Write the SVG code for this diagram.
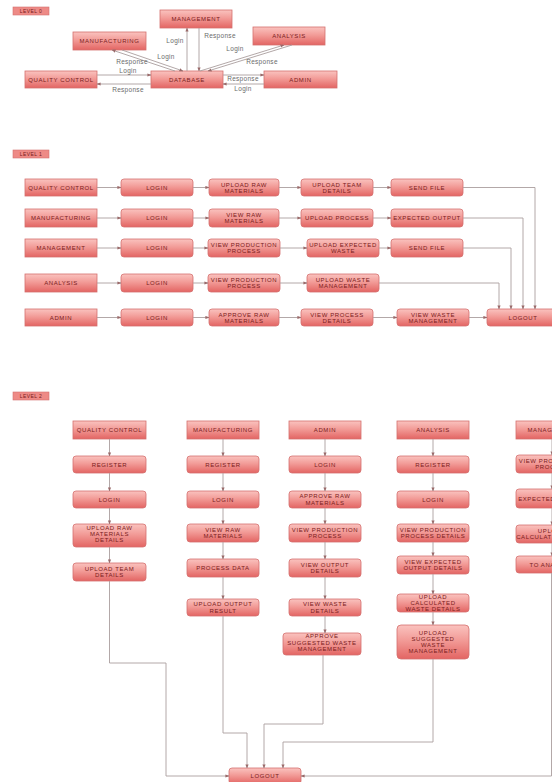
<svg xmlns="http://www.w3.org/2000/svg" width="552" height="782" viewBox="0 0 552 782">
<defs>
<linearGradient id="g" x1="0" y1="0" x2="0" y2="1">
<stop offset="0" stop-color="#fac3bf"/>
<stop offset="0.45" stop-color="#f29b97"/>
<stop offset="1" stop-color="#e36563"/>
</linearGradient>
<marker id="a" viewBox="0 0 10 10" refX="9" refY="5" markerWidth="4" markerHeight="4" orient="auto" markerUnits="userSpaceOnUse">
<path d="M0,1 L10,5 L0,9 z" fill="#9a6a6a"/>
</marker>
<style>
.b{fill:url(#g);stroke:#d4706e;stroke-width:0.8}
.lv{fill:#ee8a86;stroke:#d4706e;stroke-width:0.6}
.t{font-family:"Liberation Sans",Arial,sans-serif;font-size:6px;fill:#7a2020;text-anchor:middle;letter-spacing:0.6px}
.lt{font-family:"Liberation Sans",Arial,sans-serif;font-size:5px;fill:#7a2020;text-anchor:middle;letter-spacing:0.4px}
.c{fill:none;stroke:#aa9e9e;stroke-width:0.9;marker-end:url(#a)}
.l{font-family:"Liberation Sans",Arial,sans-serif;font-size:6.5px;fill:#6b6b6b;text-anchor:middle;letter-spacing:0.3px}
</style>
</defs>
<rect width="552" height="782" fill="#fff"/>

<!-- LEVEL 0 -->
<g id="lv0"><rect class="lv" x="13" y="7" width="36" height="8"/><text class="lt" x="31" y="12.8">LEVEL 0</text></g>
<g id="l0-management"><rect class="b" x="160" y="10" width="72" height="18"/><text class="t" x="196" y="21.1">MANAGEMENT</text></g>
<g id="l0-manufacturing"><rect class="b" x="73" y="32" width="73" height="18"/><text class="t" x="109.5" y="43.1">MANUFACTURING</text></g>
<g id="l0-analysis"><rect class="b" x="253" y="27" width="72" height="18"/><text class="t" x="289" y="38.1">ANALYSIS</text></g>
<g id="l0-qc"><rect class="b" x="25" y="71" width="72" height="17"/><text class="t" x="61" y="81.6">QUALITY CONTROL</text></g>
<g id="l0-database"><rect class="b" x="151" y="71" width="72" height="17"/><text class="t" x="187" y="81.6">DATABASE</text></g>
<g id="l0-admin"><rect class="b" x="264" y="71" width="73" height="17"/><text class="t" x="300.5" y="81.6">ADMIN</text></g>

<g id="l0-connectors">
<path class="c" d="M97,75 H151"/>
<path class="c" d="M151,84 H97"/>
<path class="c" d="M223,75 H264"/>
<path class="c" d="M264,84 H223"/>
<path class="c" d="M187,71 V28"/>
<path class="c" d="M199,28 V71"/>
<path class="c" d="M122,50 L183,71"/>
<path class="c" d="M175,71 L112,50"/>
<path class="c" d="M200,71 L284,45"/>
<path class="c" d="M292,45 L208,71"/>
<text class="l" x="128" y="73">Login</text>
<text class="l" x="128" y="91.5">Response</text>
<text class="l" x="243" y="81">Response</text>
<text class="l" x="243" y="91">Login</text>
<text class="l" x="175" y="43">Login</text>
<text class="l" x="220" y="38">Response</text>
<text class="l" x="166" y="59">Login</text>
<text class="l" x="132" y="64">Response</text>
<text class="l" x="235" y="51">Login</text>
<text class="l" x="262" y="64">Response</text>
</g>

<!-- LEVEL 1 -->
<g id="lv1"><rect class="lv" x="13" y="150" width="36" height="8"/><text class="lt" x="31" y="155.8">LEVEL 1</text></g>

<g id="l1-qc"><rect class="b" x="25" y="179" width="72" height="17"/><text class="t" x="61" y="189.6">QUALITY CONTROL</text></g>
<g id="l1-qc-login"><rect class="b" x="121" y="179" width="72" height="17" rx="3"/><text class="t" x="157" y="189.6">LOGIN</text></g>
<g id="l1-qc-upraw"><rect class="b" x="209" y="179" width="70" height="17" rx="3"/><text class="t" x="244" y="186.6">UPLOAD RAW<tspan x="244" dy="6.3">MATERIALS</tspan></text></g>
<g id="l1-qc-upteam"><rect class="b" x="301" y="179" width="72" height="17" rx="3"/><text class="t" x="337" y="186.6">UPLOAD TEAM<tspan x="337" dy="6.3">DETAILS</tspan></text></g>
<g id="l1-qc-send"><rect class="b" x="391" y="179" width="72" height="17" rx="3"/><text class="t" x="427" y="189.6">SEND FILE</text></g>

<g id="l1-man"><rect class="b" x="25" y="209" width="72" height="18"/><text class="t" x="61" y="220.1">MANUFACTURING</text></g>
<g id="l1-man-login"><rect class="b" x="121" y="209" width="72" height="18" rx="3"/><text class="t" x="157" y="220.1">LOGIN</text></g>
<g id="l1-man-viewraw"><rect class="b" x="209" y="209" width="70" height="18" rx="3"/><text class="t" x="244" y="217">VIEW RAW<tspan x="244" dy="6.3">MATERIALS</tspan></text></g>
<g id="l1-man-upproc"><rect class="b" x="301" y="209" width="72" height="18" rx="3"/><text class="t" x="337" y="220.1">UPLOAD PROCESS</text></g>
<g id="l1-man-exp"><rect class="b" x="391" y="209" width="72" height="18" rx="3"/><text class="t" x="427" y="220.1">EXPECTED OUTPUT</text></g>

<g id="l1-mgmt"><rect class="b" x="25" y="239" width="72" height="18"/><text class="t" x="61" y="250.1">MANAGEMENT</text></g>
<g id="l1-mgmt-login"><rect class="b" x="121" y="239" width="72" height="18" rx="3"/><text class="t" x="157" y="250.1">LOGIN</text></g>
<g id="l1-mgmt-viewprod"><rect class="b" x="208" y="239" width="72" height="18" rx="3"/><text class="t" x="244" y="247">VIEW PRODUCTION<tspan x="244" dy="6.3">PROCESS</tspan></text></g>
<g id="l1-mgmt-upexp"><rect class="b" x="307" y="239" width="72" height="18" rx="3"/><text class="t" x="343" y="247">UPLOAD EXPECTED<tspan x="343" dy="6.3">WASTE</tspan></text></g>
<g id="l1-mgmt-send"><rect class="b" x="391" y="239" width="72" height="18" rx="3"/><text class="t" x="427" y="250.1">SEND FILE</text></g>

<g id="l1-ana"><rect class="b" x="25" y="274" width="72" height="18"/><text class="t" x="61" y="285.1">ANALYSIS</text></g>
<g id="l1-ana-login"><rect class="b" x="121" y="274" width="72" height="18" rx="3"/><text class="t" x="157" y="285.1">LOGIN</text></g>
<g id="l1-ana-viewprod"><rect class="b" x="208" y="274" width="72" height="18" rx="3"/><text class="t" x="244" y="282">VIEW PRODUCTION<tspan x="244" dy="6.3">PROCESS</tspan></text></g>
<g id="l1-ana-upwaste"><rect class="b" x="307" y="274" width="72" height="18" rx="3"/><text class="t" x="343" y="282">UPLOAD WASTE<tspan x="343" dy="6.3">MANAGEMENT</tspan></text></g>

<g id="l1-adm"><rect class="b" x="25" y="309" width="72" height="17"/><text class="t" x="61" y="319.6">ADMIN</text></g>
<g id="l1-adm-login"><rect class="b" x="121" y="309" width="72" height="17" rx="3"/><text class="t" x="157" y="319.6">LOGIN</text></g>
<g id="l1-adm-approve"><rect class="b" x="209" y="309" width="70" height="17" rx="3"/><text class="t" x="244" y="316.6">APPROVE RAW<tspan x="244" dy="6.3">MATERIALS</tspan></text></g>
<g id="l1-adm-viewproc"><rect class="b" x="301" y="309" width="72" height="17" rx="3"/><text class="t" x="337" y="316.6">VIEW PROCESS<tspan x="337" dy="6.3">DETAILS</tspan></text></g>
<g id="l1-adm-viewwaste"><rect class="b" x="397" y="309" width="72" height="17" rx="3"/><text class="t" x="433" y="316.6">VIEW WASTE<tspan x="433" dy="6.3">MANAGEMENT</tspan></text></g>
<g id="l1-logout"><rect class="b" x="487" y="309" width="72" height="17" rx="3"/><text class="t" x="523" y="319.6">LOGOUT</text></g>

<g id="l1-connectors">
<path class="c" d="M97,187.5 H121"/><path class="c" d="M193,187.5 H209"/><path class="c" d="M279,187.5 H301"/><path class="c" d="M373,187.5 H391"/>
<path class="c" d="M97,218 H121"/><path class="c" d="M193,218 H209"/><path class="c" d="M279,218 H301"/><path class="c" d="M373,218 H391"/>
<path class="c" d="M97,248 H121"/><path class="c" d="M193,248 H208"/><path class="c" d="M280,248 H307"/><path class="c" d="M379,248 H391"/>
<path class="c" d="M97,283 H121"/><path class="c" d="M193,283 H208"/><path class="c" d="M280,283 H307"/>
<path class="c" d="M97,317.5 H121"/><path class="c" d="M193,317.5 H209"/><path class="c" d="M279,317.5 H301"/><path class="c" d="M373,317.5 H397"/><path class="c" d="M469,317.5 H487"/>
<path class="c" d="M463,187.5 H535 V309"/>
<path class="c" d="M463,218 H523 V309"/>
<path class="c" d="M463,248 H511 V309"/>
<path class="c" d="M379,283 H499 V309"/>
</g>

<!-- LEVEL 2 -->
<g id="lv2"><rect class="lv" x="13" y="392" width="36" height="8"/><text class="lt" x="31" y="397.8">LEVEL 2</text></g>

<g id="l2-qc"><rect class="b" x="73" y="421" width="73" height="18"/><text class="t" x="109.5" y="432.1">QUALITY CONTROL</text></g>
<g id="l2-qc-reg"><rect class="b" x="73" y="456" width="73" height="17" rx="3"/><text class="t" x="109.5" y="466.6">REGISTER</text></g>
<g id="l2-qc-login"><rect class="b" x="73" y="491" width="73" height="17" rx="3"/><text class="t" x="109.5" y="501.6">LOGIN</text></g>
<g id="l2-qc-upraw"><rect class="b" x="73" y="524" width="73" height="23" rx="3"/><text class="t" x="109.5" y="529.5">UPLOAD RAW<tspan x="109.5" dy="6.3">MATERIALS</tspan><tspan x="109.5" dy="6.3">DETAILS</tspan></text></g>
<g id="l2-qc-upteam"><rect class="b" x="73" y="563" width="73" height="18" rx="3"/><text class="t" x="109.5" y="570.8">UPLOAD TEAM<tspan x="109.5" dy="6.3">DETAILS</tspan></text></g>

<g id="l2-man"><rect class="b" x="187" y="421" width="72" height="18"/><text class="t" x="223" y="432.1">MANUFACTURING</text></g>
<g id="l2-man-reg"><rect class="b" x="187" y="456" width="72" height="17" rx="3"/><text class="t" x="223" y="466.6">REGISTER</text></g>
<g id="l2-man-login"><rect class="b" x="187" y="491" width="72" height="17" rx="3"/><text class="t" x="223" y="501.6">LOGIN</text></g>
<g id="l2-man-viewraw"><rect class="b" x="187" y="524" width="72" height="18" rx="3"/><text class="t" x="223" y="531.8">VIEW RAW<tspan x="223" dy="6.3">MATERIALS</tspan></text></g>
<g id="l2-man-proc"><rect class="b" x="187" y="559" width="72" height="18" rx="3"/><text class="t" x="223" y="570.1">PROCESS DATA</text></g>
<g id="l2-man-upout"><rect class="b" x="187" y="599" width="72" height="17" rx="3"/><text class="t" x="223" y="606.4">UPLOAD OUTPUT<tspan x="223" dy="6.3">RESULT</tspan></text></g>

<g id="l2-adm"><rect class="b" x="289" y="421" width="72" height="18"/><text class="t" x="325" y="432.1">ADMIN</text></g>
<g id="l2-adm-login"><rect class="b" x="289" y="456" width="72" height="17" rx="3"/><text class="t" x="325" y="466.6">LOGIN</text></g>
<g id="l2-adm-approve"><rect class="b" x="289" y="491" width="72" height="17" rx="3"/><text class="t" x="325" y="498.4">APPROVE RAW<tspan x="325" dy="6.3">MATERIALS</tspan></text></g>
<g id="l2-adm-viewprod"><rect class="b" x="289" y="524" width="72" height="18" rx="3"/><text class="t" x="325" y="531.8">VIEW PRODUCTION<tspan x="325" dy="6.3">PROCESS</tspan></text></g>
<g id="l2-adm-viewout"><rect class="b" x="289" y="559" width="72" height="18" rx="3"/><text class="t" x="325" y="566.8">VIEW OUTPUT<tspan x="325" dy="6.3">DETAILS</tspan></text></g>
<g id="l2-adm-viewwaste"><rect class="b" x="289" y="599" width="72" height="17" rx="3"/><text class="t" x="325" y="606.4">VIEW WASTE<tspan x="325" dy="6.3">DETAILS</tspan></text></g>
<g id="l2-adm-approvesug"><rect class="b" x="283" y="633" width="78" height="22" rx="3"/><text class="t" x="322" y="638.4">APPROVE<tspan x="322" dy="6.3">SUGGESTED WASTE</tspan><tspan x="322" dy="6.3">MANAGEMENT</tspan></text></g>

<g id="l2-ana"><rect class="b" x="397" y="421" width="72" height="18"/><text class="t" x="433" y="432.1">ANALYSIS</text></g>
<g id="l2-ana-reg"><rect class="b" x="397" y="456" width="72" height="17" rx="3"/><text class="t" x="433" y="466.6">REGISTER</text></g>
<g id="l2-ana-login"><rect class="b" x="397" y="491" width="72" height="17" rx="3"/><text class="t" x="433" y="501.6">LOGIN</text></g>
<g id="l2-ana-viewprod"><rect class="b" x="397" y="524" width="72" height="18" rx="3"/><text class="t" x="433" y="531.8">VIEW PRODUCTION<tspan x="433" dy="6.3">PROCESS DETAILS</tspan></text></g>
<g id="l2-ana-viewexp"><rect class="b" x="397" y="556" width="72" height="18" rx="3"/><text class="t" x="433" y="563.8">VIEW EXPECTED<tspan x="433" dy="6.3">OUTPUT DETAILS</tspan></text></g>
<g id="l2-ana-upcalc"><rect class="b" x="397" y="594" width="72" height="18" rx="3"/><text class="t" x="433" y="598.6">UPLOAD<tspan x="433" dy="6.1">CALCULATED</tspan><tspan x="433" dy="6.1">WASTE DETAILS</tspan></text></g>
<g id="l2-ana-upsug"><rect class="b" x="397" y="625" width="72" height="34" rx="4"/><text class="t" x="433" y="634.5">UPLOAD<tspan x="433" dy="6.3">SUGGESTED</tspan><tspan x="433" dy="6.3">WASTE</tspan><tspan x="433" dy="6.3">MANAGEMENT</tspan></text></g>

<g id="l2-mgmt"><rect class="b" x="516" y="421" width="72" height="18"/><text class="t" x="552" y="432.1">MANAGEMENT</text></g>
<g id="l2-mgmt-viewprod"><rect class="b" x="516" y="455" width="72" height="18" rx="3"/><text class="t" x="552" y="462.8">VIEW PRODUCTION<tspan x="552" dy="6.3">PROCESS</tspan></text></g>
<g id="l2-mgmt-exp"><rect class="b" x="516" y="489" width="72" height="19" rx="3"/><text class="t" x="552" y="500.6">EXPECTED OUTPUT</text></g>
<g id="l2-mgmt-upcalc"><rect class="b" x="516" y="525" width="72" height="18" rx="3"/><text class="t" x="552" y="532.8">UPLOAD<tspan x="552" dy="6.3">CALCULATED WASTE</tspan></text></g>
<g id="l2-mgmt-toana"><rect class="b" x="516" y="556" width="72" height="17" rx="3"/><text class="t" x="552" y="566.6">TO ANALYSIS</text></g>

<g id="l2-logout"><rect class="b" x="229" y="768" width="72" height="16" rx="3"/><text class="t" x="265" y="777.6">LOGOUT</text></g>

<g id="l2-connectors">
<path class="c" d="M109.5,439 V456"/><path class="c" d="M109.5,473 V491"/><path class="c" d="M109.5,508 V524"/><path class="c" d="M109.5,547 V563"/>
<path class="c" d="M223,439 V456"/><path class="c" d="M223,473 V491"/><path class="c" d="M223,508 V524"/><path class="c" d="M223,542 V559"/><path class="c" d="M223,577 V599"/>
<path class="c" d="M325,439 V456"/><path class="c" d="M325,473 V491"/><path class="c" d="M325,508 V524"/><path class="c" d="M325,542 V559"/><path class="c" d="M325,577 V599"/><path class="c" d="M325,616 V633"/>
<path class="c" d="M433,439 V456"/><path class="c" d="M433,473 V491"/><path class="c" d="M433,508 V524"/><path class="c" d="M433,542 V556"/><path class="c" d="M433,574 V594"/><path class="c" d="M433,612 V625"/>
<path class="c" d="M552,439 V455"/><path class="c" d="M552,473 V489"/><path class="c" d="M552,508 V525"/><path class="c" d="M552,543 V556"/>
<path class="c" d="M109.5,581 V663 H166 V776 H229"/>
<path class="c" d="M223,616 V733 H247 V768"/>
<path class="c" d="M323,655 V724 H264 V768"/>
<path class="c" d="M433,659 V742 H283 V768"/>
<path class="c" d="M551.5,573 V776 H301"/>
</g>
</svg>
